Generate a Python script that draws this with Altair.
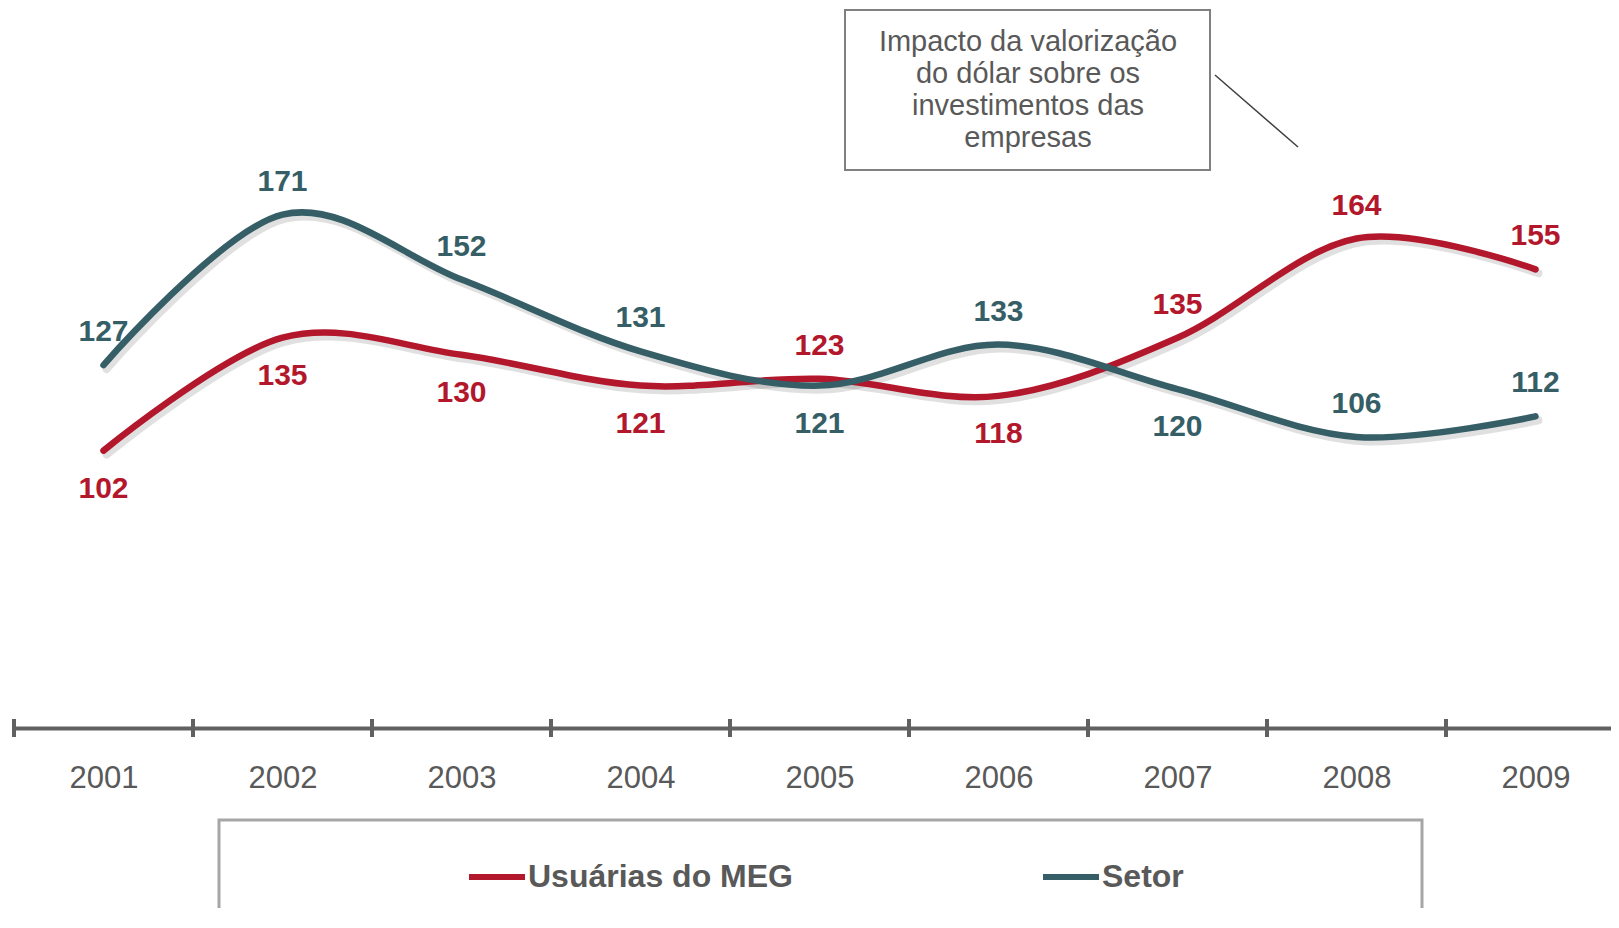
import altair as alt
import pandas as pd

# ---- data ----
years = ["2001", "2002", "2003", "2004", "2005", "2006", "2007", "2008", "2009"]
meg = [102, 135, 130, 121, 123, 118, 135, 164, 155]
setor = [127, 171, 152, 131, 121, 133, 120, 106, 112]
series_names = ["Usuárias do MEG", "Setor"]
# where each data label sits relative to its point
meg_side = ["below", "below", "below", "below", "above", "below", "above", "above", "above"]
setor_side = ["above", "above", "above", "above", "below", "above", "below", "above", "above"]
annotation = "Impacto da valorização\ndo dólar  sobre os\ninvestimentos  das\nempresas"

RED = "#B3172C"
TEAL = "#355E66"
GREY = "#595959"
AXIS = "#616161"
FONT = "Liberation Sans"

rows = []
for i, y in enumerate(years):
    rows.append({"year": int(y), "value": meg[i], "series": series_names[0], "side": meg_side[i]})
    rows.append({"year": int(y), "value": setor[i], "series": series_names[1], "side": setor_side[i]})
df = pd.DataFrame(rows)

W = 1597
STEP = 179.0
first = int(years[0])
x_scale = alt.Scale(domain=[first - 0.5, first - 0.5 + W / STEP], nice=False, zero=False)
x_axis = alt.Axis(title=None, ticks=False, tickSize=0, labelPadding=50, labelBaseline="middle",
                  values=[int(v) for v in years], format="d", labelFlush=False, labelOverlap=False,
                  labelFontSize=31, labelFont=FONT, labelColor=GREY, labelAngle=0,
                  domainColor=AXIS, domainWidth=4, grid=False)
x_enc = alt.X("year:Q", scale=x_scale, axis=x_axis)
y_enc = alt.Y("value:Q", scale=alt.Scale(domain=[20.9, 231.4], nice=False, zero=False), axis=None)
color_enc = alt.Color(
    "series:N",
    scale=alt.Scale(domain=series_names, range=[RED, TEAL]),
    title=None,
    legend=alt.Legend(orient="none", legendX=452, legendY=838, direction="horizontal",
                      symbolType="stroke", symbolSize=3136, symbolStrokeWidth=6,
                      labelFont=FONT, labelFontSize=32, labelFontWeight="bold", labelLimit=0,
                      labelColor=GREY, labelOffset=0, columnPadding=238, padding=0),
)

base = alt.Chart(df)

shadow = base.mark_line(interpolate="cardinal", strokeWidth=8, color="black", opacity=0.12,
                        strokeCap="round", xOffset=3, yOffset=4).encode(
    x=x_enc, y=y_enc, detail="series:N")

lines = base.mark_line(interpolate="cardinal", strokeWidth=6.5, strokeCap="round").encode(
    x=x_enc, y=y_enc, color=color_enc)

lab_above = base.mark_text(dy=-33, fontSize=30, fontWeight="bold", font=FONT).encode(
    x=x_enc, y=y_enc, text="value:Q", color=color_enc).transform_filter(alt.datum.side == "above")
lab_below = base.mark_text(dy=38, fontSize=30, fontWeight="bold", font=FONT).encode(
    x=x_enc, y=y_enc, text="value:Q", color=color_enc).transform_filter(alt.datum.side == "below")

ticks = alt.Chart(pd.DataFrame({"year": [int(v) for v in years]})).transform_calculate(
    edge="datum.year - 0.5"
).mark_rule(color=AXIS, strokeWidth=4).encode(
    x=alt.X("edge:Q", scale=x_scale, axis=x_axis),
    y=alt.value(711), y2=alt.value(729))

one = pd.DataFrame({"t": [annotation]})
ann_box = alt.Chart(one).mark_rect(fill="white", stroke="#808080", strokeWidth=2).encode(
    x=alt.value(831), x2=alt.value(1196), y=alt.value(2), y2=alt.value(162))
ann_text = alt.Chart(one).mark_text(lineBreak="\n", lineHeight=32, align="center", baseline="alphabetic",
                                    fontSize=29, font=FONT, color=GREY).encode(
    x=alt.value(1014), y=alt.value(43), text="t:N")
ann_line = alt.Chart(one).mark_rule(color="#404040", strokeWidth=1.5).encode(
    x=alt.value(1201), x2=alt.value(1284), y=alt.value(67), y2=alt.value(139))

legend_box = alt.Chart(one).mark_rect(fill="white", fillOpacity=0, stroke="#A6A6A6", strokeWidth=3).encode(
    x=alt.value(205), x2=alt.value(1408), y=alt.value(812), y2=alt.value(1000))

chart = alt.layer(
    legend_box, ann_box, ann_text, ann_line, ticks, shadow, lines, lab_above, lab_below
).properties(
    width=W, height=720,
    padding={"left": 6, "top": 0, "right": 0, "bottom": 180},
    autosize=alt.AutoSizeParams(type="none"),
).configure(background="white").configure_view(stroke=None)

chart.save("out.html", embed_options={"renderer": "svg", "actions": False})
